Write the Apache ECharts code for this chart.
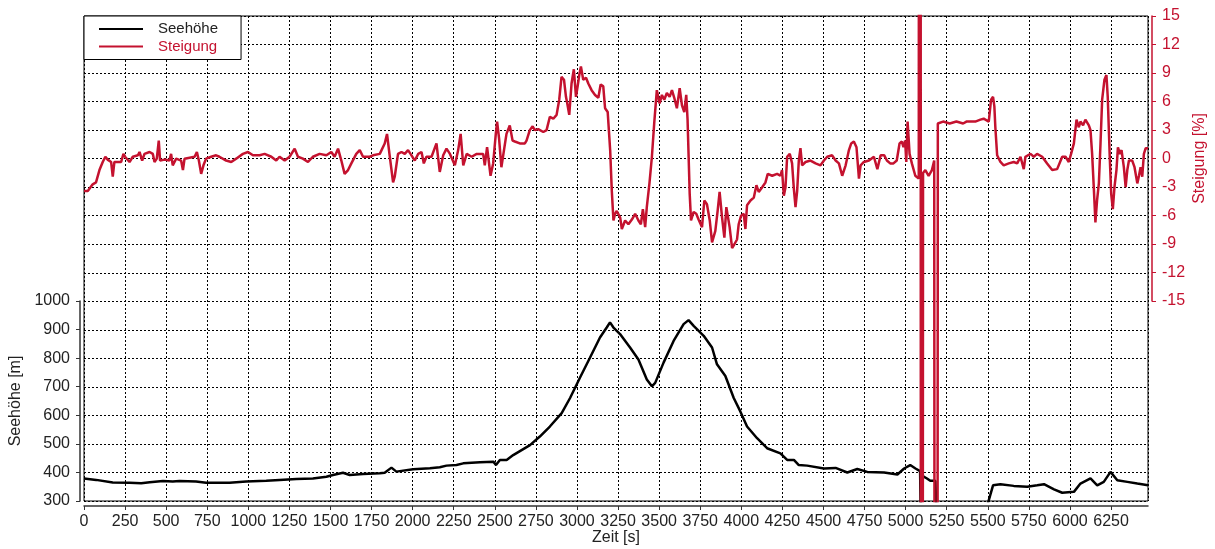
<!DOCTYPE html>
<html>
<head>
<meta charset="utf-8">
<title>Seehöhe und Steigung</title>
<script src="https://cdn.jsdelivr.net/npm/echarts@6/dist/echarts.min.js"></script>
<style>
  html, body { margin: 0; padding: 0; background: #fff; }
  #chart { width: 1215px; height: 549px; }
</style>
</head>
<body>
<div id="chart"></div>
<script>
// Elevation profile (time in s, altitude in m)
const hoeheZeit = [0, 74, 175, 277, 348, 400, 480, 540, 581, 682, 743, 886, 987, 1109, 1190, 1292, 1393, 1475, 1515, 1576,
  1617, 1698, 1800, 1830, 1871, 1901, 2003, 2105, 2165, 2206, 2267, 2308, 2410, 2491, 2507, 2531, 2572, 2612, 2714, 2774,
  2835, 2907, 2958, 3018, 3079, 3140, 3181, 3201, 3222, 3262, 3323, 3374, 3425, 3456, 3476, 3527, 3588, 3649, 3679, 3710,
  3771, 3822, 3852, 3903, 3954, 3994, 4035, 4096, 4157, 4238, 4279, 4320, 4350, 4401, 4503, 4574, 4645, 4706, 4767, 4869,
  4950, 4991, 5028, 5060, 5088, 5092, 5097, 5130, 5150, 5181, 5188, 5480, 5532, 5577, 5658, 5740, 5801, 5842, 5903, 5953,
  6024, 6064, 6125, 6166, 6206, 6247, 6288, 6349, 6410, 6475];
const hoeheWerte = [379, 374, 365, 364, 362, 366, 370, 368, 370, 368, 364, 364, 368, 371, 374, 377, 379, 385, 391, 399,
  391, 395, 397, 399, 417, 403, 411, 415, 418, 424, 426, 432, 436, 438, 426, 444, 444, 461, 496, 526,
  561, 608, 661, 732, 802, 873, 908, 926, 908, 885, 838, 796, 726, 702, 714, 785, 861, 920, 934, 914,
  879, 838, 779, 738, 661, 614, 561, 520, 485, 467, 444, 444, 426, 424, 414, 416, 400, 412, 402, 400,
  393, 414, 426, 414, 405, 250, 390, 379, 371, 371, 250, 250, 355, 359, 353, 350, 355, 359, 341, 329,
  332, 361, 379, 355, 367, 402, 373, 367, 361, 355];

// Gradient (time in s, slope in %)
const steigungZeit = [0, 23, 53, 73, 94, 114, 130, 144, 165, 175, 185, 195, 226, 240, 250, 277, 297, 328, 338, 354,
  368, 399, 419, 429, 443, 455, 463, 490, 520, 530, 540, 561, 591, 602, 612, 673, 687, 699, 713, 727,
  743, 774, 804, 824, 865, 896, 926, 967, 998, 1028, 1069, 1099, 1140, 1170, 1190, 1221, 1251, 1282, 1302, 1332,
  1363, 1393, 1434, 1475, 1505, 1525, 1546, 1566, 1586, 1607, 1627, 1657, 1678, 1698, 1739, 1759, 1800, 1830, 1844, 1861,
  1881, 1891, 1911, 1932, 1952, 1972, 1993, 2013, 2034, 2054, 2068, 2084, 2115, 2145, 2165, 2186, 2206, 2227, 2257, 2277,
  2292, 2308, 2329, 2359, 2390, 2409, 2429, 2439, 2453, 2463, 2474, 2490, 2506, 2514, 2526, 2540, 2550, 2571, 2591, 2608,
  2622, 2652, 2683, 2693, 2713, 2730, 2744, 2764, 2795, 2815, 2835, 2856, 2876, 2892, 2906, 2921, 2933, 2941, 2953, 2967,
  2981, 2994, 3004, 3014, 3024, 3038, 3055, 3069, 3089, 3110, 3130, 3144, 3160, 3171, 3187, 3202, 3212, 3222, 3232, 3242,
  3263, 3273, 3293, 3313, 3334, 3354, 3374, 3389, 3401, 3415, 3425, 3441, 3456, 3470, 3486, 3503, 3517, 3531, 3547, 3564,
  3578, 3592, 3608, 3625, 3639, 3653, 3665, 3673, 3686, 3694, 3710, 3726, 3740, 3761, 3775, 3791, 3808, 3822, 3842, 3856,
  3868, 3883, 3897, 3909, 3917, 3929, 3944, 3958, 3974, 3984, 3999, 4015, 4025, 4035, 4056, 4076, 4092, 4106, 4127, 4147,
  4161, 4188, 4218, 4238, 4248, 4259, 4269, 4279, 4295, 4309, 4320, 4330, 4340, 4350, 4360, 4370, 4391, 4421, 4452, 4482,
  4503, 4523, 4553, 4574, 4594, 4614, 4635, 4655, 4669, 4685, 4701, 4716, 4726, 4746, 4777, 4807, 4828, 4848, 4855, 4870,
  4886, 4906, 4926, 4946, 4963, 4977, 4987, 4997, 5004, 5012, 5024, 5038, 5059, 5080, 5085, 5088, 5096, 5106, 5120, 5140,
  5160, 5174, 5179, 5186, 5196, 5228, 5268, 5309, 5350, 5370, 5424, 5455, 5475, 5506, 5520, 5532, 5540, 5546, 5557, 5577,
  5597, 5628, 5658, 5679, 5699, 5709, 5719, 5729, 5760, 5780, 5800, 5831, 5861, 5892, 5922, 5953, 5973, 5993, 6007, 6024,
  6040, 6054, 6064, 6080, 6094, 6115, 6125, 6135, 6145, 6155, 6165, 6176, 6186, 6196, 6210, 6222, 6230, 6243, 6251, 6261,
  6271, 6283, 6292, 6304, 6314, 6328, 6339, 6349, 6359, 6379, 6393, 6410, 6420, 6430, 6440, 6450, 6461, 6475];
const steigungWerte = [-3.4, -3.4, -2.7, -2.5, -1.2, -0.35, 0.2, -0.1, -0.35, -1.9, -0.35, -0.2, -0.35, 0.5, 0.2, -0.35, 0.2, 0.35, 0.7, -0.2,
  0.5, 0.7, 0.5, -0.35, 0, 1.9, -0.2, -0.1, -0.2, 0.5, -0.7, 0, -0.2, -1.2, 0, 0.2, 0.7, -0.2, -1.6, -0.7,
  0, 0.2, 0.35, 0.2, -0.2, -0.35, 0, 0.5, 0.7, 0.35, 0.35, 0.5, 0.2, -0.2, 0.2, -0.2, 0.2, 1.05, 0.2, 0,
  -0.35, 0.2, 0.5, 0.35, 0.7, 0.2, 1.05, -0.2, -1.6, -1.2, -0.5, 0.5, 0.9, 0.2, 0.2, 0.35, 0.5, 1.6, 2.6, 0.2,
  -2.5, -1.9, 0.5, 0.7, 0.5, 0.9, 0.35, -0.2, 0.5, 0.7, -0.5, 0.2, 0.2, 1.6, -1.4, 0.35, 1.05, 0.5, -0.7, 0.9,
  2.6, -0.7, 0.5, 0.2, 0.5, 0.5, 0.5, -0.7, 1.2, 1.4, -1.8, -0.5, 2.6, 3.9, 2.1, -0.9, -0.7, 2.6, 3.5, 1.9,
  1.8, 1.6, 1.6, 1.9, 3.0, 3.4, 3.0, 3.1, 2.8, 3.0, 4.4, 4.2, 4.6, 6.2, 8.6, 8.3, 6.5, 5.8, 4.6, 7.9,
  9.4, 6.5, 7.6, 8.8, 9.7, 8.3, 8.5, 7.9, 7.2, 6.7, 6.4, 7.8, 7.6, 5.3, 4.9, 0.9, -3.4, -6.5, -5.8, -5.5,
  -6.2, -7.4, -6.5, -6.9, -6.4, -5.8, -6.5, -6.9, -5.3, -7.2, -5.1, -2.6, 0.2, 3.7, 7.2, 5.8, 6.7, 6.2, 6.9, 6.5,
  7.2, 6.4, 5.3, 7.4, 5.6, 4.9, 6.7, 4.1, -3.7, -6.5, -5.6, -5.8, -6.4, -7.2, -4.4, -4.8, -6.5, -8.8, -7.6, -5.5,
  -3.5, -6.2, -8.3, -5.1, -4.9, -7.2, -9.4, -9.0, -8.5, -6.9, -6.0, -5.8, -7.4, -4.9, -4.4, -4.1, -2.8, -3.5, -3.0, -2.5,
  -1.6, -1.8, -1.6, -1.8, -1.2, -3.9, -3.0, 0.2, 0.5, -0.5, -3.2, -5.1, -3.4, -0.2, 1.1, -0.7, -0.35, -0.2, -0.5, -0.7,
  -0.2, 0.2, 0.35, -0.2, -0.5, -1.8, -0.7, 0.9, 1.6, 1.8, 1.2, -2.1, -0.7, -0.35, -0.2, 0.2, -1.1, 0.35, 0.5, 0.35,
  -0.2, -0.5, -0.5, -0.2, 1.6, 1.8, 1.2, 1.9, -0.35, 3.9, 0.5, -0.5, -1.8, -2.1, -2.0, 300, -300, -1.5, -1.2, -1.8,
  -1.2, -0.2, -0.2, -300, 3.7, 3.9, 3.7, 3.9, 3.7, 3.9, 3.9, 4.1, 4.2, 3.9, 6.2, 6.5, 5.5, 3.3, 0.35, -0.35,
  -0.7, -0.5, -0.35, -0.5, 0.2, 0.35, -1.1, 0.2, 0.5, 0.2, 0.5, 0.2, -0.5, -1.2, -1.1, 0.2, 0.2, -0.35, 0.5, 1.6,
  4.1, 3.3, 3.9, 3.5, 4.1, 3.5, 3.0, 0.5, -3.0, -6.7, -4.4, -2.6, 1.6, 6.2, 8.3, 8.8, 6.5, -0.2, -3.7, -5.3,
  -3.0, -1.2, 1.2, 0.5, 0.9, -0.9, -3.0, -1.2, -0.2, -0.2, -0.9, -2.6, -1.8, -0.9, -1.9, 0.5, 1.1, 1.1];

const zeitMax = 6475;

const FONT = "'Liberation Sans', Arial, sans-serif";
const ROT = '#c4122f';
const DUNKEL = '#222';

const hoeheDaten = hoeheZeit.map((t, i) => [t, hoeheWerte[i]]);
const steigungDaten = steigungZeit.map((t, i) => [t, steigungWerte[i]]);

const gitterLinie = { show: true, lineStyle: { color: '#000', width: 1, type: [2, 2] } };
const ohneTrenner = v => String(v);

const chart = echarts.init(document.getElementById('chart'), null, { renderer: 'canvas' });
chart.setOption({
  animation: false,
  backgroundColor: '#fff',
  textStyle: { fontFamily: FONT },
  grid: [
    // plot area
    { left: 84, right: 67, top: 16, bottom: 48, outerBoundsMode: 'none', containLabel: false,
      show: true, borderColor: '#000', borderWidth: 1, backgroundColor: 'transparent' },
    // lower band carrying the altitude scale
    { left: 84, right: 67, top: 301, bottom: 48, outerBoundsMode: 'none', containLabel: false },
    // upper band carrying the gradient scale
    { left: 84, right: 67, top: 16, bottom: 248, outerBoundsMode: 'none', containLabel: false }
  ],
  legend: {
    orient: 'vertical',
    left: 84,
    top: 16,
    padding: [5, 23, 5, 15],
    itemGap: 1.5,
    itemWidth: 44,
    itemHeight: 2,
    icon: 'rect',
    borderColor: '#000',
    borderWidth: 1,
    borderRadius: 0,
    backgroundColor: '#fff',
    textStyle: { fontFamily: FONT, fontSize: 15, lineHeight: 16, padding: [0, 0, 0, 10] },
    data: [
      { name: 'Seehöhe', textStyle: { color: DUNKEL } },
      { name: 'Steigung', textStyle: { color: ROT } }
    ]
  },
  xAxis: [
    {
      gridIndex: 0, type: 'value', min: 0, max: zeitMax, interval: 250,
      offset: 5,
      name: 'Zeit [s]', nameLocation: 'middle', nameGap: 24, nameMoveOverlap: false,
      nameTextStyle: { fontFamily: FONT, fontSize: 16, color: DUNKEL },
      axisLine: { show: true, onZero: false, lineStyle: { color: '#333', width: 1.5 } },
      axisTick: { show: true, length: 4, lineStyle: { color: '#333' } },
      axisLabel: { fontFamily: FONT, fontSize: 16, color: DUNKEL, margin: 8, showMaxLabel: false, formatter: ohneTrenner },
      splitLine: gitterLinie
    },
    { gridIndex: 1, type: 'value', min: 0, max: zeitMax, show: false, axisLine: { show: false, onZero: false } },
    { gridIndex: 2, type: 'value', min: 0, max: zeitMax, show: false, axisLine: { show: false, onZero: false } }
  ],
  yAxis: [
    {
      // altitude scale of the whole plot, draws the horizontal grid
      gridIndex: 0, type: 'value', position: 'left', min: 300, max: 2000, interval: 100,
      axisLine: { show: false, onZero: false }, axisTick: { show: false }, axisLabel: { show: false },
      splitLine: gitterLinie
    },
    {
      // gradient scale of the whole plot
      gridIndex: 0, type: 'value', position: 'right', min: -36, max: 15, interval: 3,
      show: false, axisLine: { show: false, onZero: false }, splitLine: { show: false }
    },
    {
      gridIndex: 1, type: 'value', position: 'left', min: 300, max: 1000, interval: 100,
      offset: 4,
      name: 'Seehöhe [m]', nameLocation: 'middle', nameGap: 56, nameRotate: 90, nameMoveOverlap: false,
      nameTextStyle: { fontFamily: FONT, fontSize: 16, color: DUNKEL },
      axisLine: { show: true, onZero: false, lineStyle: { color: '#333', width: 1.5 } },
      axisTick: { show: true, length: 4, lineStyle: { color: '#333' } },
      axisLabel: { fontFamily: FONT, fontSize: 16, color: DUNKEL, margin: 10, formatter: ohneTrenner },
      splitLine: { show: false }
    },
    {
      gridIndex: 2, type: 'value', position: 'right', min: -15, max: 15, interval: 3,
      offset: 4,
      name: 'Steigung [%]', nameLocation: 'middle', nameGap: 40, nameRotate: 90, nameMoveOverlap: false,
      nameTextStyle: { fontFamily: FONT, fontSize: 16, color: ROT },
      axisLine: { show: true, onZero: false, lineStyle: { color: ROT, width: 1.5 } },
      axisTick: { show: true, length: 4, lineStyle: { color: ROT } },
      axisLabel: { fontFamily: FONT, fontSize: 16, color: ROT, margin: 10, formatter: ohneTrenner },
      splitLine: { show: false }
    }
  ],
  series: [
    {
      name: 'Seehöhe', type: 'line', xAxisIndex: 0, yAxisIndex: 0,
      data: hoeheDaten, showSymbol: false, symbol: 'none', clip: true,
      color: '#000', lineStyle: { color: '#000', width: 2.5 }, z: 3
    },
    {
      name: 'Steigung', type: 'line', xAxisIndex: 0, yAxisIndex: 1,
      data: steigungDaten, showSymbol: false, symbol: 'none', clip: true,
      color: ROT, lineStyle: { color: ROT, width: 2.5 }, z: 4
    }
  ]
});
</script>
</body>
</html>
